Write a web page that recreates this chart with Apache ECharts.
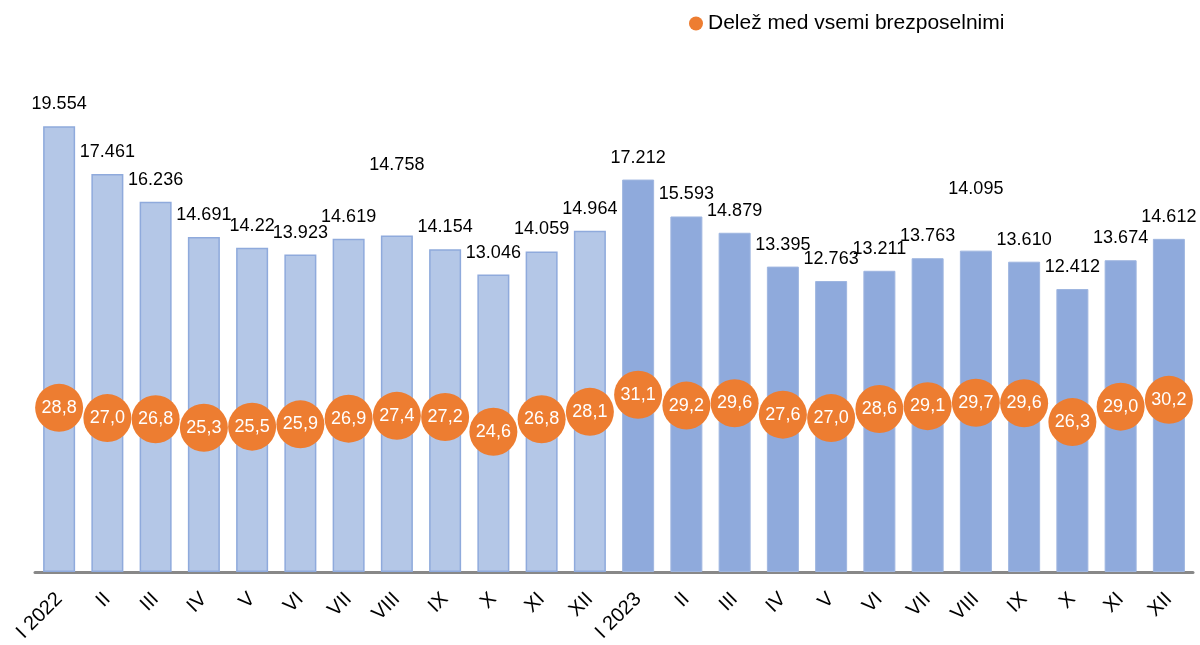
<!DOCTYPE html>
<html>
<head>
<meta charset="utf-8">
<script src="https://cdn.jsdelivr.net/npm/echarts@6/dist/echarts.min.js"></script>
<style>
  html, body { margin: 0; padding: 0; background: #fff; }
  #chart { width: 1200px; height: 645px; }
</style>
</head>
<body>
<div id="chart"></div>
<script>
// months (2022 then 2023)
const months = ['I 2022', 'II', 'III', 'IV', 'V', 'VI', 'VII', 'VIII', 'IX', 'X', 'XI', 'XII',
  'I 2023', 'II', 'III', 'IV', 'V', 'VI', 'VII', 'VIII', 'IX', 'X', 'XI', 'XII'];

// number of unemployed (bars)
const unemployed = [19554, 17461, 16236, 14691, 14220, 13923, 14619, 14758, 14154, 13046, 14059, 14964,
  17212, 15593, 14879, 13395, 12763, 13211, 13763, 14095, 13610, 12412, 13674, 14612];

// bar labels as printed on the chart
const unemployedLabels = ['19.554', '17.461', '16.236', '14.691', '14.22', '13.923', '14.619', '14.758',
  '14.154', '13.046', '14.059', '14.964', '17.212', '15.593', '14.879', '13.395', '12.763', '13.211',
  '13.763', '14.095', '13.610', '12.412', '13.674', '14.612'];

// share among all unemployed (%)
const share = [28.8, 27.0, 26.8, 25.3, 25.5, 25.9, 26.9, 27.4, 27.2, 24.6, 26.8, 28.1,
  31.1, 29.2, 29.6, 27.6, 27.0, 28.6, 29.1, 29.7, 29.6, 26.3, 29.0, 30.2];

const chart = echarts.init(document.getElementById('chart'));

// labels that sit higher than the rest in the original
const raisedLabels = { 7: -48, 19: -40 };

const barData = unemployed.map((v, i) => {
  const item = {
    value: v,
    itemStyle: i < 12
      ? { color: '#b4c7e7', borderColor: '#8faadc', borderWidth: 1.5 }
      : { color: '#8faadc', borderColor: '#9fb6e0', borderWidth: 1 }
  };
  if (raisedLabels[i] !== undefined) {
    item.label = { offset: [0, raisedLabels[i]] };
  }
  return item;
});

const option = {
  animation: false,
  textStyle: { fontFamily: 'Liberation Sans, Arial, sans-serif' },
  legend: {
    data: ['Delež med vsemi brezposelnimi'],
    left: 684,
    top: 8,
    icon: 'circle',
    itemWidth: 14,
    itemHeight: 14,
    textStyle: { fontSize: 21, color: '#000' }
  },
  grid: { left: 35, right: 7, top: 116, bottom: 73 },
  xAxis: {
    type: 'category',
    data: months,
    axisLine: { lineStyle: { color: '#888', width: 3 } },
    axisTick: { show: false },
    axisLabel: {
      rotate: 45,
      interval: 0,
      margin: 24,
      fontSize: 20,
      color: '#000'
    }
  },
  yAxis: [
    { type: 'value', min: 0, max: 20000, show: false, splitLine: { show: false } },
    { type: 'value', min: 0, max: 80, show: false, splitLine: { show: false } }
  ],
  series: [
    {
      name: 'Brezposelni',
      type: 'bar',
      barWidth: 32,
      data: barData,
      label: {
        show: true,
        position: 'top',
        distance: 13,
        fontSize: 18,
        color: '#000',
        formatter: p => unemployedLabels[p.dataIndex]
      }
    },
    {
      name: 'Delež med vsemi brezposelnimi',
      type: 'scatter',
      yAxisIndex: 1,
      symbolSize: 48,
      itemStyle: { color: '#ed7d31', opacity: 1 },
      data: share,
      label: {
        show: true,
        position: 'inside',
        fontSize: 18,
        color: '#fff',
        formatter: p => p.value.toFixed(1).replace('.', ',')
      },
      z: 3
    }
  ]
};

chart.setOption(option);
</script>
</body>
</html>
